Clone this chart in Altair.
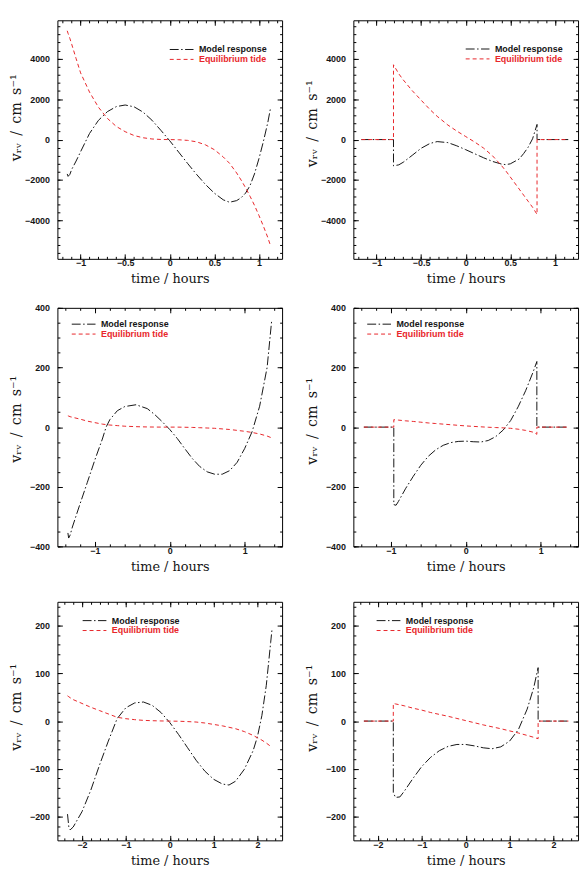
import math
import altair as alt
import pandas as pd

M = "Model response"
E = "Equilibrium tide"
BLACK = "#151515"
RED = "#e8262b"
DASH_M = [9, 2.5, 1.5, 2.5]
DASH_E = [4, 3]

# ---------------- panel 1 (top left) ----------------
P1_T = [-1.15, -1.14, -1.12, -1.1, -1.05, -1.0, -0.9, -0.8, -0.7, -0.6, -0.5, -0.4,
        -0.3, -0.2, -0.1, 0.0, 0.1, 0.2, 0.3, 0.4, 0.5, 0.6, 0.67, 0.75, 0.8, 0.85,
        0.9, 0.95, 1.0, 1.05, 1.1, 1.13]
P1_MODEL = [-1700, -1820, -1720, -1480, -1060, -600, 300, 950, 1380, 1630, 1710, 1620,
            1360, 960, 460, -60, -620, -1180, -1720, -2220, -2650, -2980, -3100, -3020, -2880, -2650,
            -2280, -1700, -950, -100, 850, 1550]
P1_EQ = [5380, 5250, 5000, 4720, 4000, 3300, 2350, 1600, 1050, 650, 390, 200,
         90, 30, 5, 0, -10, -40, -110, -260, -500, -860, -1170, -1650, -2000, -2380,
         -2800, -3250, -3750, -4280, -4850, -5250]
P1_XDOM = [-1.26, 1.26]
P1_YDOM = [-5900, 5900]
P1_XMAJ = [-1, -0.5, 0, 0.5, 1]
P1_YMAJ = [-4000, -2000, 0, 2000, 4000]

# ---------------- panel 2 (top right) ----------------
P2_T = [-1.17, -0.81, -0.81, -0.75, -0.7, -0.6, -0.5, -0.4, -0.32, -0.2, -0.1, 0.0,
        0.1, 0.2, 0.3, 0.4, 0.45, 0.5, 0.6, 0.65, 0.7, 0.75, 0.8, 0.8, 1.15]
P2_MODEL = [0, 0, -1300, -1250, -1120, -780, -430, -190, -100, -150, -310, -500,
            -700, -900, -1080, -1210, -1240, -1200, -960, -690, -380, 40, 750, 0, 0]
P2_EQ = [0, 0, 3700, 3250, 2950, 2420, 1950, 1480, 1150, 720, 420, 150,
         -120, -420, -800, -1280, -1550, -1850, -2450, -2750, -3050, -3350, -3700, 0, 0]
P2_XDOM = [-1.26, 1.26]
P2_YDOM = [-5900, 5900]
P2_XMAJ = [-1, -0.5, 0, 0.5, 1]
P2_YMAJ = [-4000, -2000, 0, 2000, 4000]

# ---------------- panel 3 (middle left) ----------------
P3_T = [-1.36, -1.35, -1.33, -1.3, -1.2, -1.1, -1.0, -0.9, -0.85, -0.8, -0.7, -0.6,
        -0.45, -0.3, -0.2, -0.1, 0.0, 0.1, 0.2, 0.3, 0.4, 0.5, 0.6, 0.7, 0.8, 0.9,
        1.0, 1.1, 1.2, 1.3, 1.36]
P3_MODEL = [-355, -372, -362, -335, -259, -185, -110, -40, 0, 25, 55, 69,
            75, 62, 42, 18, -8, -38, -72, -105, -132, -150, -158, -158, -146, -118,
            -72, -15, 70, 200, 355]
P3_EQ = [38, 37, 35, 33, 27, 20, 15, 10, 8.5, 7, 5, 3,
         1.5, 0.5, 0.2, 0, 0, 0, -0.5, -1, -2, -3, -4, -6, -8, -11,
         -14, -18, -23, -30, -36]
P3_XDOM = [-1.5, 1.5]
P3_YDOM = [-400, 400]
P3_XMAJ = [-1, 0, 1]
P3_YMAJ = [-400, -200, 0, 200, 400]

# ---------------- panel 4 (middle right) ----------------
P4_T = [-1.36, -0.96, -0.96, -0.93, -0.9, -0.8, -0.7, -0.6, -0.5, -0.4, -0.3, -0.2,
        -0.1, 0.0, 0.1, 0.2, 0.3, 0.4, 0.5, 0.6, 0.7, 0.8, 0.9, 0.95, 0.95, 1.35]
P4_MODEL = [0, 0, -260, -262, -250, -205, -165, -128, -98, -76, -61, -52,
            -48, -47, -49, -50, -45, -32, -10, 22, 68, 122, 185, 220, 0, 0]
P4_EQ = [0, 0, 25, 24, 23.5, 21, 19, 16.5, 14, 12, 10, 8,
         6, 4, 2.5, 1, -0.5, -1.5, -2.5, -4, -7, -11, -17, -24, 0, 0]
P4_XDOM = [-1.5, 1.5]
P4_YDOM = [-400, 400]
P4_XMAJ = [-1, 0, 1]
P4_YMAJ = [-400, -200, 0, 200, 400]

# ---------------- panel 5 (bottom left) ----------------
P5_T = [-2.33, -2.3, -2.27, -2.2, -2.0, -1.8, -1.6, -1.4, -1.2, -1.0, -0.8, -0.6,
        -0.4, -0.2, 0.0, 0.2, 0.4, 0.6, 0.8, 1.0, 1.2, 1.35, 1.5, 1.7, 1.9, 2.0,
        2.1, 2.2, 2.3, 2.33]
P5_MODEL = [-195, -222, -228, -222, -190, -145, -92, -42, 5, 28, 38, 40,
            33, 18, -3, -28, -55, -82, -105, -122, -132, -134, -126, -101, -62, -32,
            12, 75, 165, 192]
P5_EQ = [53, 51, 49, 45, 37, 29, 22, 15, 8, 5, 3, 1.5,
         0.8, 0.3, 0, -0.3, -1, -2, -4, -7, -10, -13, -16, -22, -30, -35,
         -40, -46, -53, -55]
P5_XDOM = [-2.56, 2.56]
P5_YDOM = [-250, 250]
P5_XMAJ = [-2, -1, 0, 1, 2]
P5_YMAJ = [-200, -100, 0, 100, 200]

# ---------------- panel 6 (bottom right) ----------------
P6_T = [-2.32, -1.65, -1.65, -1.6, -1.5, -1.4, -1.2, -1.0, -0.8, -0.6, -0.4, -0.2,
        0.0, 0.2, 0.4, 0.6, 0.8, 1.0, 1.2, 1.4, 1.55, 1.65, 1.65, 2.34]
P6_MODEL = [0, 0, -150, -160, -159, -147, -120, -95, -76, -62, -53, -49,
            -49, -52, -56, -58, -54, -42, -18, 25, 70, 112, 0, 0]
P6_EQ = [0, 0, 37, 36, 34, 32, 27, 23, 18, 14, 10, 5.5,
         1, -3.5, -8, -12, -16, -20.5, -25, -30, -34, -37, 0, 0]
P6_XDOM = [-2.56, 2.56]
P6_YDOM = [-250, 250]
P6_XMAJ = [-2, -1, 0, 1, 2]
P6_YMAJ = [-200, -100, 0, 100, 200]

X_TITLE = "time / hours"
Y_TITLE = "v\u1d63\u1d65\u2002/\u2002cm\u2002s\u207b\u00b9"

TICK_FONT = "Liberation Sans"
TITLE_FONT = "DejaVu Serif"
W = 227
H = 241
LEG_SYMBOL = "M-3,0L3,0"


def minor(dom, step):
    lo = math.ceil(dom[0] / step - 1e-9)
    hi = math.floor(dom[1] / step + 1e-9)
    return [round(k * step, 6) for k in range(lo, hi + 1)]


def panel(t, model, eq, xdom, ydom, xmaj, xstep, ymaj, ystep, yfmt, lx, ly, ty):
    rows = []
    for i, (tt, v) in enumerate(zip(t, model)):
        rows.append({"t": tt, "v": v, "s": M, "i": i})
    for i, (tt, v) in enumerate(zip(t, eq)):
        rows.append({"t": tt, "v": v, "s": E, "i": i})
    df = pd.DataFrame(rows)
    xs = alt.Scale(domain=xdom, nice=False, zero=False)
    ys = alt.Scale(domain=ydom, nice=False, zero=False)
    leg = alt.Legend(
        title=None, orient="none", legendX=lx, legendY=ly,
        symbolType=LEG_SYMBOL, symbolSize=64, symbolStrokeWidth=1,
        symbolFillColor="transparent",
        labelFont=TICK_FONT, labelFontWeight="bold", labelFontSize=9,
        labelColor={"expr": f"datum.label == '{E}' ? '{RED}' : '{BLACK}'"},
        rowPadding=0, labelOffset=13, padding=0,
    )
    xaxis = alt.Axis(
        orient="bottom", values=xmaj, ticks=False, tickSize=0, domain=False, grid=False,
        format="~g", labelFont=TICK_FONT, labelFontWeight="bold", labelFontSize=9,
        labelColor=BLACK, labelPadding=0, labelFlush=False, labelOverlap=False,
        title=X_TITLE, titleFont=TITLE_FONT, titleFontSize=13, titleFontWeight="normal",
        titleColor=BLACK, titleBaseline="middle", titleX=W / 2, titleY=20,
    )
    yaxis = alt.Axis(
        orient="left", values=ymaj, ticks=False, tickSize=0, domain=False, grid=False,
        format=yfmt, labelFont=TICK_FONT, labelFontWeight="bold", labelFontSize=9,
        labelColor=BLACK, labelPadding=8, labelFlush=False, labelOverlap=False,
        title=Y_TITLE, titleFont=TITLE_FONT, titleFontSize=14.5, titleFontWeight="normal",
        titleColor=BLACK, titleBaseline="middle", titleX=-41, titleY=ty, titleAngle=270,
    )
    lines = alt.Chart(df).mark_line(strokeWidth=1, clip=True).encode(
        x=alt.X("t:Q", scale=xs, axis=xaxis),
        y=alt.Y("v:Q", scale=ys, axis=yaxis),
        color=alt.Color("s:N", scale=alt.Scale(domain=[M, E], range=[BLACK, RED]), legend=leg),
        strokeDash=alt.StrokeDash("s:N", scale=alt.Scale(domain=[M, E], range=[DASH_M, DASH_E]), legend=leg),
        order="i:Q",
    )

    def tick_layer(xo, yo, xv, yv, size):
        return alt.Chart(df).mark_point(opacity=0).encode(
            x=alt.X("t:Q", scale=xs, axis=alt.Axis(
                orient=xo, values=xv, tickSize=size, offset=-size, labels=False,
                domain=False, grid=False, title=None, tickColor="black", tickWidth=1)),
            y=alt.Y("v:Q", scale=ys, axis=alt.Axis(
                orient=yo, values=yv, tickSize=size, offset=-size, labels=False,
                domain=False, grid=False, title=None, tickColor="black", tickWidth=1)),
        )

    xmin = minor(xdom, xstep)
    ymin = minor(ydom, ystep)
    layers = [
        lines,
        tick_layer("bottom", "left", xmaj, ymaj, 5),
        tick_layer("bottom", "left", xmin, ymin, 2.5),
        tick_layer("top", "right", xmaj, ymaj, 5),
        tick_layer("top", "right", xmin, ymin, 2.5),
    ]
    return alt.layer(*layers).resolve_axis(x="independent", y="independent").properties(width=W, height=H)


p1 = panel(P1_T, P1_MODEL, P1_EQ, P1_XDOM, P1_YDOM, P1_XMAJ, 0.1, P1_YMAJ, 400, "d", 121, 25, 98)
p2 = panel(P2_T, P2_MODEL, P2_EQ, P2_XDOM, P2_YDOM, P2_XMAJ, 0.1, P2_YMAJ, 400, "d", 121, 24.5, 104)
p3 = panel(P3_T, P3_MODEL, P3_EQ, P3_XDOM, P3_YDOM, P3_XMAJ, 0.2, P3_YMAJ, 50, "d", 22, 12, 112)
p4 = panel(P4_T, P4_MODEL, P4_EQ, P4_XDOM, P4_YDOM, P4_XMAJ, 0.2, P4_YMAJ, 50, "d", 21.5, 12, 114)
p5 = panel(P5_T, P5_MODEL, P5_EQ, P5_XDOM, P5_YDOM, P5_XMAJ, 0.2, P5_YMAJ, 20, "d", 33, 14.5, 106)
p6 = panel(P6_T, P6_MODEL, P6_EQ, P6_XDOM, P6_YDOM, P6_XMAJ, 0.2, P6_YMAJ, 20, "d", 31, 14.5, 107)


def indep(c):
    return (c.resolve_scale(color="independent", strokeDash="independent")
            .resolve_legend(color="independent", strokeDash="independent"))


def row(a, b):
    return indep(alt.hconcat(a, b, spacing=21))


top_two = indep(alt.vconcat(row(p1, p2), row(p3, p4), spacing=16.5))

chart = (
    indep(alt.vconcat(top_two, row(p5, p6), spacing=27.5))
    .configure_view(stroke="black", strokeWidth=1)
    .properties(padding={"left": 8, "top": 15, "right": 4, "bottom": 4}, background="white")
)

chart.save("out.html", embed_options={"renderer": "svg", "actions": False})
